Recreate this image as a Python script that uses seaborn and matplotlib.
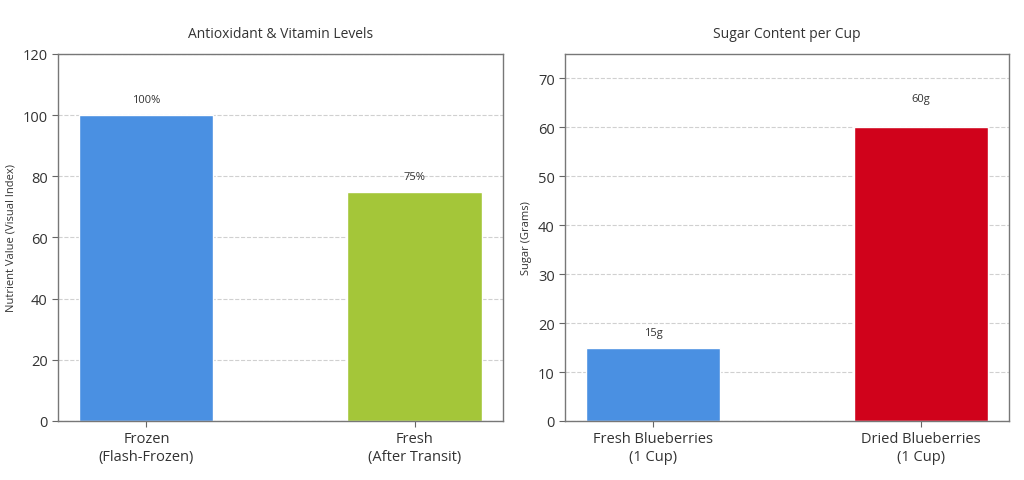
import matplotlib.pyplot as plt
import seaborn as sns
import pandas as pd

# data
nutrient_cats = ['Frozen\n(Flash-Frozen)', 'Fresh\n(After Transit)']
nutrient_vals = [100, 75]
nutrient_labels = ['100%', '75%']
nutrient_colors = ['#4a90e2', '#a4c639']

sugar_cats = ['Fresh Blueberries\n(1 Cup)', 'Dried Blueberries\n(1 Cup)']
sugar_vals = [15, 60]
sugar_labels = ['15g', '60g']
sugar_colors = ['#4a90e2', '#d0021b']

sns.set_style('white')
plt.rcParams['font.family'] = ['Open Sans', 'DejaVu Sans']

fig = plt.figure(figsize=(10.24, 4.81), dpi=100)
fig.patch.set_facecolor('white')
ax1 = fig.add_axes([0.0566, 0.1227, 0.4346, 0.763])
ax2 = fig.add_axes([0.5518, 0.1227, 0.4336, 0.763])


def draw(ax, cats, vals, labels, colors, title, ylabel, ylim, ticks, pads):
    df = pd.DataFrame({'cat': cats, 'val': vals})
    sns.barplot(data=df, x='cat', y='val', hue='cat', palette=colors,
                width=0.5, legend=False, ax=ax, saturation=1)
    ax.set_xlim(-0.33, 1.33)
    ax.set_ylim(*ylim)
    ax.set_yticks(ticks)
    ax.set_axisbelow(True)
    ax.yaxis.grid(True, linestyle='--', color='#d0d0d0', linewidth=0.8)
    ax.set_title(title, fontsize=10, color='#333333', pad=12)
    ax.set_xlabel('')
    ax.set_ylabel(ylabel, fontsize=8, color='#333333')
    ax.tick_params(axis='both', labelsize=10.5, colors='#333333', length=4,
                   color='#666666', bottom=True, left=True)
    for s in ax.spines.values():
        s.set_color('#777777')
        s.set_linewidth(1)
    for i, (v, lab) in enumerate(zip(vals, labels)):
        ax.text(i, v + pads[i], lab, ha='center', va='bottom', fontsize=8,
                color='#333333')


draw(ax1, nutrient_cats, nutrient_vals, nutrient_labels, nutrient_colors,
     'Antioxidant & Vitamin Levels', 'Nutrient Value (Visual Index)',
     (0, 120), range(0, 121, 20), [3.2, 3.0])
draw(ax2, sugar_cats, sugar_vals, sugar_labels, sugar_colors,
     'Sugar Content per Cup', 'Sugar (Grams)',
     (0, 75), range(0, 71, 10), [1.9, 4.8])

plt.savefig('out.png', dpi=100, facecolor=fig.get_facecolor())
